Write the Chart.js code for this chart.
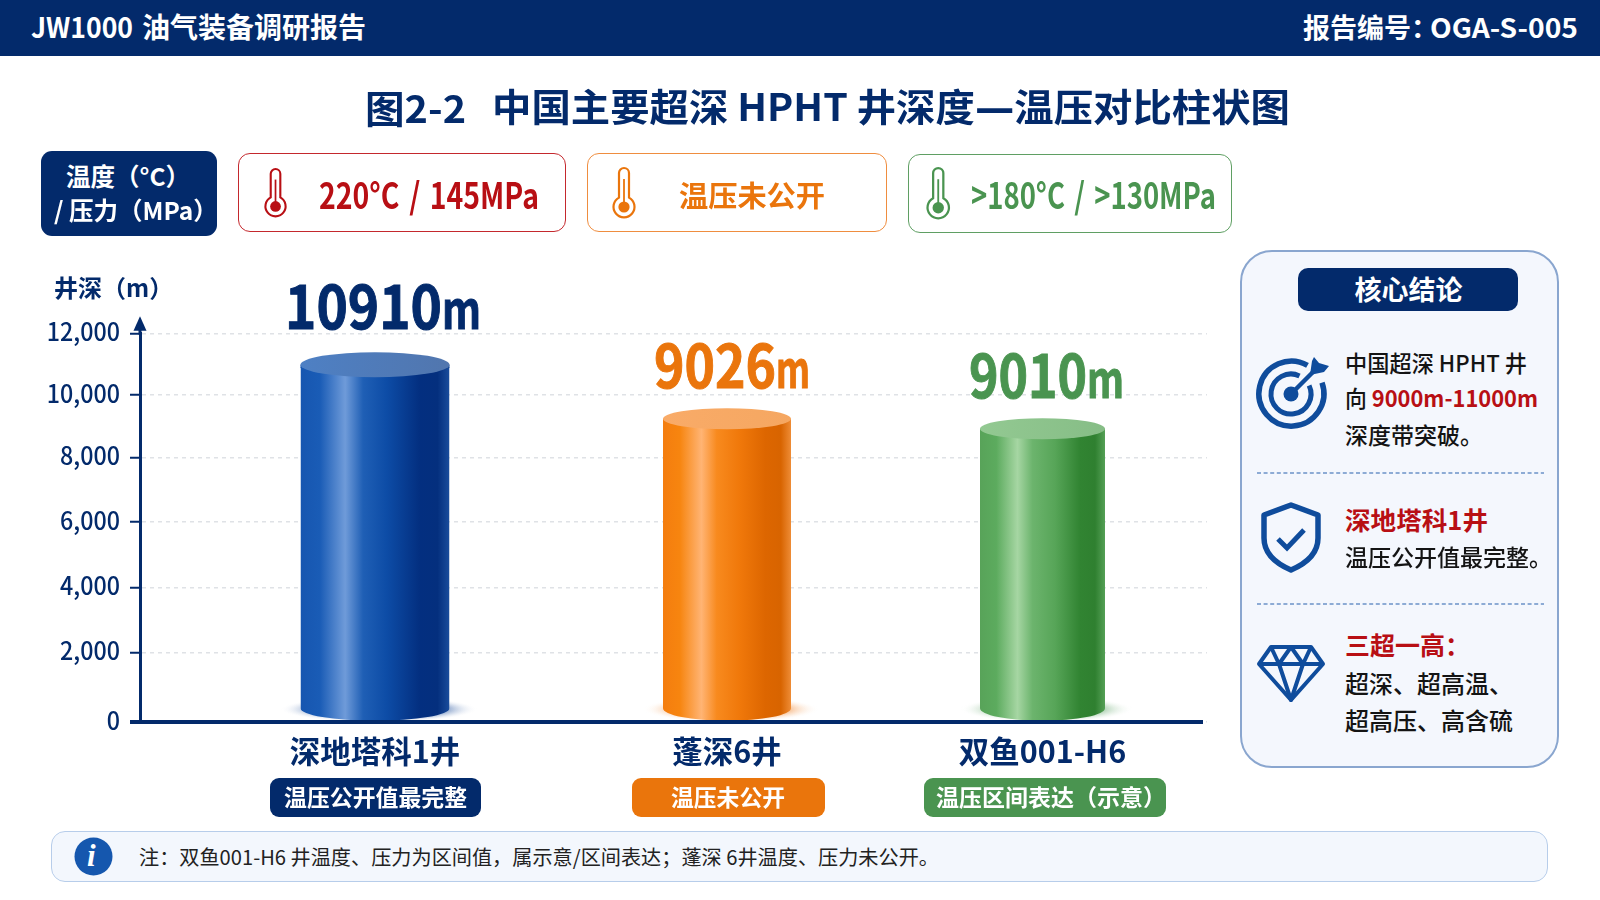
<!DOCTYPE html>
<html lang="zh">
<head>
<meta charset="utf-8">
<style>
html,body{margin:0;padding:0;background:#fff;width:1600px;height:900px;overflow:hidden;font-family:"Noto Sans CJK SC","Noto Sans",sans-serif;}
#stage{position:relative;width:1600px;height:900px;overflow:hidden;}
canvas{position:absolute;left:0;top:0;}
.box{position:absolute;box-sizing:border-box;}
.t{position:absolute;white-space:pre;line-height:1.2;transform-origin:left center;}
svg{position:absolute;overflow:visible;}
</style>
</head>
<body>
<div id="stage">
  <canvas id="chart" width="1600" height="900"></canvas>
</div>
<script src="https://cdn.jsdelivr.net/npm/chart.js@4/dist/chart.umd.min.js"></script>
<script>
// ---- data ----
const categories = ["深地塔科1井", "蓬深6井", "双鱼001-H6"];
const depths = [10910, 9026, 9010];
const depthUnit = "m";
const yTickStep = 2000;
const yMax = 12000;
const tempPressure = ["220°C / 145MPa", "温压未公开", ">180°C / >130MPa"];
const disclosure = ["温压公开值最完整", "温压未公开", "温压区间表达（示意）"];

// ---- style ----
const NAVY = "#032a6b", RED = "#b80f14", ORANGE = "#ea750c", GREEN = "#4a9450", BLUE = "#0f4c9c";
const barStyle = [
  { w: 149, lift: 2.4, ry: 12.5,
    stops: [[0,"#1656b0"],[.13,"#1a5cb6"],[.3,"#6f9bd9"],[.42,"#1f5fb5"],[.58,"#0d4ca6"],[.8,"#032f80"],[.92,"#042f7e"],[1,"#1a4d9c"]],
    cap: ["#4e80c4","#5176ae"], shadow: "rgba(20,70,150,.7)",
    label: NAVY, dx: -90, base: 38, fs: 60, dw: 157, mw: 39 },
  { w: 128, lift: 6.8, ry: 10.5,
    stops: [[0,"#f47d0e"],[.13,"#f7850f"],[.3,"#ffb474"],[.42,"#f88a1e"],[.6,"#f0780a"],[.8,"#dd6600"],[.92,"#d86400"],[1,"#ee8c36"]],
    cap: ["#f9ab68","#f5a761"], shadow: "rgba(240,130,40,.6)",
    label: ORANGE, dx: -73, base: 37.5, fs: 59, dw: 122, mw: 34 },
  { w: 125, lift: -2.7, ry: 10.5,
    stops: [[0,"#58a359"],[.13,"#5cab5e"],[.3,"#a6d6a3"],[.42,"#6cb46d"],[.6,"#57a558"],[.8,"#318432"],[.92,"#2f8030"],[1,"#55a056"]],
    cap: ["#93c992","#86bd86"], shadow: "rgba(70,150,80,.5)",
    label: GREEN, dx: -73.5, base: 28, fs: 59, dw: 118, mw: 37 }
];
const AREA = { left: 140, right: 1207, top: 333.7, bottom: 722 };
const barCenters = [375, 727, 1042.5];
const gridPixels = [722, 652.7, 587.7, 522, 457.7, 395, 333.7];  // pixel of each y tick, bottom to top

// Category scale whose slots follow the reference's uneven spacing.
class SlottedCategory extends Chart.CategoryScale {
  getPixelForValue(v) {
    const i = typeof v === "number" ? v : this.parse(v);
    return this.getPixelForDecimal((barCenters[i] - AREA.left) / (AREA.right - AREA.left));
  }
  getPixelForTick(i) { return this.getPixelForValue(this.ticks[i].value); }
}
SlottedCategory.id = "slottedCategory";
SlottedCategory.defaults = Chart.CategoryScale.defaults;
Chart.register(SlottedCategory);

// Linear scale whose ticks sit where the reference draws them.
class DrawnLinear extends Chart.LinearScale {
  getPixelForValue(v) {
    if (v === null || v === undefined) return NaN;
    const i = Math.min(Math.max(Math.floor(v / yTickStep), 0), gridPixels.length - 2);
    return gridPixels[i] + (v / yTickStep - i) * (gridPixels[i + 1] - gridPixels[i]);
  }
  _computeLabelItems(a) {
    const items = super._computeLabelItems(a);
    items.forEach(it => { it.options.translation[1] -= 2; });
    return items;
  }
  drawLabels(a) {
    const ctx = this.ctx, right = 119;
    ctx.save();
    ctx.translate(right, 0); ctx.scale(0.93, 1); ctx.translate(-right, 0);
    super.drawLabels(a);
    ctx.restore();
  }
}
DrawnLinear.id = "drawnLinear";
DrawnLinear.defaults = Chart.LinearScale.defaults;
Chart.register(DrawnLinear);

function hGrad(ctx, x0, x1, stops) {
  const g = ctx.createLinearGradient(x0, 0, x1, 0);
  stops.forEach(s => g.addColorStop(s[0], s[1]));
  return g;
}

const cylinderPlugin = {
  id: "cylinder",
  afterDatasetUpdate(chart) {
    chart.getDatasetMeta(0).data.forEach((el, i) => { el.width = barStyle[i].w; });
  },
  beforeDatasetsDraw(chart) {
    const ctx = chart.ctx;
    chart.getDatasetMeta(0).data.forEach((el, i) => {
      const s = barStyle[i], rx = s.w / 2 + 24, ry = 13, cx = el.x + 4, cy = el.base - 12;
      ctx.save();
      ctx.translate(cx, cy); ctx.scale(rx, ry);
      const g = ctx.createRadialGradient(0, 0, .62, 0, 0, 1);
      g.addColorStop(0, s.shadow);
      g.addColorStop(1, "rgba(255,255,255,0)");
      ctx.fillStyle = g;
      ctx.beginPath(); ctx.arc(0, 0, 1, 0, Math.PI * 2); ctx.fill();
      ctx.restore();
    });
  },
  beforeDatasetDraw(chart) {
    const ctx = chart.ctx;
    ctx.save();
    ctx.beginPath();
    chart.getDatasetMeta(0).data.forEach((el, i) => {
      const s = barStyle[i], w = s.w, l = el.x - w / 2, cyb = el.base - 13;
      const top = Math.max(el.y, el.y - s.lift);
      ctx.moveTo(l, top);
      ctx.lineTo(l + w, top);
      ctx.lineTo(l + w, cyb);
      ctx.ellipse(el.x, cyb, w / 2, 12.5, 0, 0, Math.PI);
      ctx.closePath();
    });
    ctx.clip();
  },
  afterDatasetDraw(chart) {
    const ctx = chart.ctx;
    ctx.restore();
    chart.getDatasetMeta(0).data.forEach((el, i) => {
      const s = barStyle[i], l = el.x - s.w / 2, top = el.y - s.lift;
      if (s.lift > 0) {
        ctx.fillStyle = hGrad(ctx, l, l + s.w, s.stops);
        ctx.fillRect(l, top, s.w, s.lift + 1);
      }
      ctx.fillStyle = hGrad(ctx, l, l + s.w, [[0, s.cap[0]], [1, s.cap[1]]]);
      ctx.beginPath();
      ctx.ellipse(el.x, top, s.w / 2, s.ry, 0, 0, Math.PI * 2);
      ctx.fill();
      // value label: digits and a smaller unit, both condensed
      const x0 = el.x + s.dx, by = el.y - s.base;
      ctx.save();
      ctx.fillStyle = s.label;
      ctx.strokeStyle = s.label;
      ctx.lineWidth = 1;
      ctx.textBaseline = "alphabetic";
      ctx.textAlign = "left";
      ctx.font = `700 ${s.fs}px "Noto Sans CJK SC"`;
      const digits = String(depths[i]);
      ctx.save();
      ctx.translate(x0, by);
      ctx.scale(s.dw / ctx.measureText(digits).width, 1);
      ctx.fillText(digits, 0, 0);
      ctx.strokeText(digits, 0, 0);
      ctx.restore();
      ctx.font = `700 ${s.fs * 0.86}px "Noto Sans CJK SC"`;
      ctx.translate(x0 + s.dw, by);
      ctx.scale(s.mw / ctx.measureText(depthUnit).width, 1);
      ctx.fillText(depthUnit, 0, 0);
      ctx.strokeText(depthUnit, 0, 0);
      ctx.restore();
    });
  },
  afterDraw(chart) {
    const ctx = chart.ctx, a = chart.chartArea;
    ctx.save();
    ctx.strokeStyle = NAVY; ctx.fillStyle = NAVY;
    // baseline, running left past the y axis
    ctx.lineWidth = 4;
    ctx.beginPath(); ctx.moveTo(a.left - 10, a.bottom); ctx.lineTo(a.right - 4, a.bottom); ctx.stroke();
    // y axis arrow
    ctx.lineWidth = 3;
    ctx.beginPath(); ctx.moveTo(a.left, a.top + 1); ctx.lineTo(a.left, a.top - 6); ctx.stroke();
    ctx.beginPath(); ctx.moveTo(a.left, a.top - 17.5); ctx.lineTo(a.left + 6.5, a.top - 3); ctx.lineTo(a.left - 6.5, a.top - 3); ctx.closePath(); ctx.fill();
    ctx.restore();
  }
};

new Chart(document.getElementById("chart"), {
  type: "bar",
  plugins: [cylinderPlugin],
  data: {
    labels: categories,
    datasets: [{
      label: "井深（m）",
      data: depths,
      borderWidth: 0,
      backgroundColor(c) {
        const chart = c.chart;
        if (!chart.chartArea || c.dataIndex === undefined) return "#1656b0";
        const s = barStyle[c.dataIndex], cx = chart.scales.x.getPixelForValue(c.dataIndex);
        return hGrad(chart.ctx, cx - s.w / 2, cx + s.w / 2, s.stops);
      }
    }]
  },
  options: {
    responsive: false,
    animation: false,
    events: [],
    layout: { padding: { top: AREA.top, right: 1600 - AREA.right, left: 0, bottom: 0 } },
    plugins: { legend: { display: false }, tooltip: { enabled: false }, title: { display: false } },
    scales: {
      x: {
        type: "slottedCategory",
        afterFit(s) { s.height = 900 - AREA.bottom; },
        grid: { display: false, drawTicks: false },
        border: { display: false },
        ticks: { color: NAVY, font: { family: '"Noto Sans CJK SC"', size: 30.5, weight: 700 }, padding: 11, autoSkip: false, maxRotation: 0, minRotation: 0 }
      },
      y: {
        type: "drawnLinear",
        min: 0, max: yMax,
        afterFit(s) { s.width = AREA.left; },
        grid: { color: "#dfe2e6", lineWidth: 1.5, tickColor: NAVY, tickLength: 10, tickWidth: 2, tickBorderDash: [] },
        border: { display: true, color: NAVY, width: 3, dash: [4, 4] },
        ticks: {
          stepSize: yTickStep, color: NAVY, padding: 10,
          font: { family: '"Noto Sans CJK SC"', size: 25, weight: 500 },
          callback: v => Number(v).toLocaleString("en-US")
        }
      }
    }
  }
});

// ---- surrounding page furniture (real text) ----
const stage = document.getElementById("stage");
function box(x0, y0, x1, y1, css) {
  const d = document.createElement("div");
  d.className = "box";
  d.style.cssText = `left:${x0}px;top:${y0}px;width:${x1 - x0}px;height:${y1 - y0}px;${css}`;
  stage.appendChild(d);
  return d;
}
function text(x, cy, html, size, weight, color, w, extra) {
  const d = document.createElement("div");
  d.className = "t";
  d.innerHTML = html;
  d.style.cssText = `left:${x}px;top:${cy - 1.5}px;font-size:${size}px;font-weight:${weight};color:${color};${extra || ""}`;
  stage.appendChild(d);
  let k = 1;
  if (w) k = w / d.getBoundingClientRect().width;
  d.style.transform = `translateY(-50%) scaleX(${k})`;
  return d;
}
function svg(x, y, w, h, vb, inner) {
  stage.insertAdjacentHTML("beforeend",
    `<svg style="left:${x}px;top:${y}px" width="${w}" height="${h}" viewBox="${vb}" fill="none">${inner}</svg>`);
}
function thermo(x, y, h, color) {
  svg(x, y, 24 * h / 50, h, "0 0 24 50",
    `<path d="M7 5a5 5 0 0 1 10 0V29.6a10.5 10.5 0 1 1-10 0Z" stroke="${color}" stroke-width="2.2"/>
     <path d="M12 11V36" stroke="${color}" stroke-width="1.8"/><circle cx="12" cy="39" r="5.6" fill="${color}"/>`);
}
function dashed(x0, x1, y) {
  svg(x0, y, x1 - x0, 1, `0 0 ${x1 - x0} 1`,
    `<path d="M0 0H${x1 - x0}" stroke="#6b93c8" stroke-width="1.5" stroke-dasharray="4 2.6"/>`);
}

// header
box(0, 0, 1600, 56, "background:#032a6b;");
text(30.6, 28.5, "JW1000", 28, 700, "#fff", 102);
text(142, 28.5, "油气装备调研报告", 28, 700, "#fff", 224);
text(1303, 28.5, "报告编号：", 27, 600, "#fff");
text(1430, 28.5, "OGA-S-005", 27, 600, "#fff", 148);
// title
text(365, 108, "图2-2", 38, 700, NAVY, 101);
text(492, 108, `中国主要超深 HPHT 井深度<span style="font-family:'DejaVu Sans'">—</span>温压对比柱状图`, 38, 700, NAVY, 798);

// legend row
box(41, 151, 217, 236, "background:#032a6b;border-radius:11px;");
text(66, 177, "温度（°C）", 24.5, 600, "#fff");
text(54, 211, "/ 压力（MPa）", 24.5, 600, "#fff");
box(238, 153, 566, 232, `background:#fff;border:1.8px solid #c4282d;border-radius:12px;`);
thermo(264, 169, 48, RED);
text(319, 195, tempPressure[0], 36, 700, RED, 220, "word-spacing:4px;");
box(587, 153, 887, 232, `background:#fff;border:1.8px solid #ef8d3f;border-radius:12px;`);
thermo(612, 168, 50, ORANGE);
text(679, 195, tempPressure[1], 29, 700, ORANGE, 146);
box(908, 154, 1232, 233, `background:#fff;border:1.8px solid #5f9f63;border-radius:12px;`);
thermo(926, 168, 51, GREEN);
text(970.6, 195, tempPressure[2], 36, 700, GREEN, 245, "word-spacing:4px;");

// y axis title
text(54, 288, "井深（m）", 24, 700, NAVY);

// pills below the categories
box(269.6, 778, 480.7, 817, "background:#032a6b;border-radius:9px;");
text(284, 798, disclosure[0], 23, 700, "#fff", 183);
box(631.6, 778, 824.6, 817, `background:${ORANGE};border-radius:9px;`);
text(671, 798, disclosure[1], 23, 700, "#fff", 114);
box(924, 778, 1166, 817, `background:${GREEN};border-radius:9px;`);
text(936, 798, disclosure[2], 23, 600, "#fff", 230);

// note bar
box(51, 831, 1548, 882, "background:#f3f7fd;border:1.5px solid #b7cdea;border-radius:14px;");
svg(74, 837, 39, 39, "0 0 39 39",
  `<circle cx="19.5" cy="19.5" r="19" fill="#1557ae"/>`);
text(87, 857, "i", 31, 700, "#fff", 0, `font-style:italic;font-family:"Liberation Serif",serif;`);
text(139, 857, "注：双鱼001-H6 井温度、压力为区间值，属示意/区间表达；蓬深 6井温度、压力未公开。", 20.5, 400, "#222", 800);

// conclusions panel
box(1239.5, 249.5, 1559, 768, "background:#f4f7fd;border:2px solid #8aa6cf;border-radius:32px;");
box(1298, 268, 1518, 311, "background:#032a6b;border-radius:10px;");
text(1354.5, 290, "核心结论", 27, 700, "#fff");

svg(1291, 394, 1, 1, "0 0 1 1",
  `<g stroke="${BLUE}">
    <path d="M31 -11.3A32.5 32.5 0 1 1 16.5 -28.6" stroke-width="5.5"/>
    <path d="M18.1 -8.5A20 20 0 1 1 8.5 -18.1" stroke-width="5"/>
    <path d="M0 0L26 -26" stroke-width="4.5"/></g>
   <circle r="7.5" fill="${BLUE}"/>
   <path d="M19 -19L21 -33L23 -37L28 -31L38 -28L33 -22Z" fill="${BLUE}"/>`);
text(1345, 364, "中国超深 HPHT 井", 23, 500, "#141414", 182);
text(1345, 399, `向 <span style="color:${RED};font-weight:600">9000m-11000m</span>`, 23, 500, "#141414", 193);
text(1345, 436, "深度带突破。", 23, 500, "#141414");
dashed(1257, 1544, 473);

svg(1261, 502, 60, 71, "0 0 60 71",
  `<path d="M30 3L57 13V36C57 52 44 62 30 68C16 62 3 52 3 36V13Z" stroke="${BLUE}" stroke-width="5.5" stroke-linejoin="round"/>
   <path d="M17 37L26 46L43 28" stroke="${BLUE}" stroke-width="5"/>`);
text(1345, 520, "深地塔科1井", 25, 700, RED, 143);
text(1345, 558, "温压公开值最完整。", 23, 500, "#141414");
dashed(1257, 1544, 604);

svg(1257, 645, 68, 58, "0 0 68 58",
  `<g stroke="${BLUE}" stroke-width="4" stroke-linejoin="round">
   <path d="M14 2H54L66 19L34 55L2 19Z"/><path d="M2 19H66"/>
   <path d="M14 2L22 19L34 2L46 19L54 2"/><path d="M22 19L34 55L46 19"/></g>`);
text(1345, 645, "三超一高：", 25, 700, RED);
text(1345, 684, "超深、超高温、", 24, 500, "#141414");
text(1345, 721, "超高压、高含硫", 24, 500, "#141414");
</script>
</body>
</html>
